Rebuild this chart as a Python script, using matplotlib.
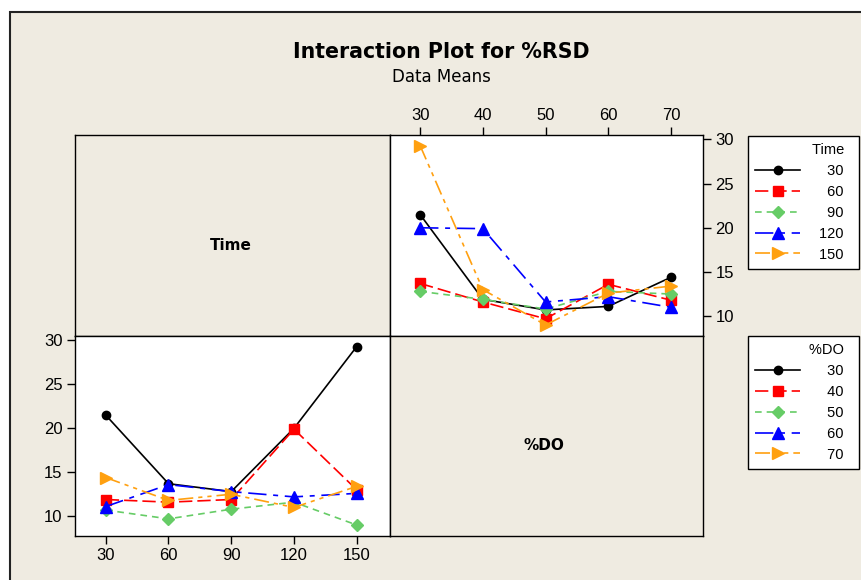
import numpy as np
import matplotlib
matplotlib.use("Agg")
import matplotlib.pyplot as plt
from matplotlib.patches import Rectangle

# ---- data (cell means of %RSD) ----
time_levels = [30, 60, 90, 120, 150]
do_levels = [30, 40, 50, 60, 70]
# mean %RSD for each Time level, across %DO = 30, 40, 50, 60, 70
rsd_time30 = [21.5, 11.9, 10.7, 11.1, 14.4]
rsd_time60 = [13.7, 11.6, 9.7, 13.6, 11.8]
rsd_time90 = [12.8, 11.9, 10.8, 12.8, 12.5]
rsd_time120 = [20.0, 19.9, 11.6, 12.2, 11.0]
rsd_time150 = [29.3, 13.0, 9.0, 12.6, 13.4]
yticks = [10, 15, 20, 25, 30]

means = np.array([rsd_time30, rsd_time60, rsd_time90, rsd_time120, rsd_time150])

# ---- styles ----
BEIGE = "#EFEBE1"
colors = ["black", "#FF0000", "#66CC66", "#0000FF", "#FFA010"]
markers = ["o", "s", "D", "^", ">"]
msizes = [6, 7, 6.5, 8, 9]
dashes = ["-", (0, (8, 3)), (0, (4, 3)), (0, (11, 4, 3, 4)), (0, (9, 3, 2.5, 3, 2.5, 3))]

W, H = 862, 580
fig = plt.figure(figsize=(W / 100, H / 100), dpi=100)
fig.patch.set_facecolor("white")
fig.add_artist(Rectangle((10 / W, -0.05), 1.0, 1 - 12 / H + 0.05, transform=fig.transFigure,
                         facecolor=BEIGE, edgecolor="#222222", lw=1.5, zorder=-10))


def pos(x0, y0, x1, y1):
    return [x0 / W, 1 - y1 / H, (x1 - x0) / W, (y1 - y0) / H]


num_font = dict(family=["Liberation Sans", "DejaVu Sans"], size=12)
ylim = (7.75, 30.5)

ax_tl = fig.add_axes(pos(75, 135, 390, 336))
ax_tr = fig.add_axes(pos(390, 135, 703, 336))
ax_bl = fig.add_axes(pos(75, 336, 390, 536))
ax_br = fig.add_axes(pos(390, 336, 703, 536))

for ax, label, dx in ((ax_tl, "Time", -2), (ax_br, "%DO", -3)):
    ax.set_facecolor(BEIGE)
    ax.set_xticks([])
    ax.set_yticks([])
    ax.text(0.5 + dx / 313, 0.5 - 10 / 201, label, transform=ax.transAxes, ha="center", va="center",
            fontsize=11, fontweight="bold", family="DejaVu Sans")

for ax in (ax_tl, ax_tr, ax_bl, ax_br):
    for s in ax.spines.values():
        s.set_color("black")
        s.set_linewidth(1.0)

# top-right: x = %DO, one line per Time level
tr_lines = []
for i, t in enumerate(time_levels):
    ln, = ax_tr.plot(do_levels, means[i, :], color=colors[i], linestyle=dashes[i], lw=1.2,
                     marker=markers[i], markersize=msizes[i], markerfacecolor=colors[i],
                     markeredgecolor=colors[i])
    tr_lines.append(ln)
ax_tr.set_xlim(25.2, 75.1)
ax_tr.set_ylim(*ylim)
ax_tr.xaxis.tick_top()
ax_tr.yaxis.tick_right()
ax_tr.set_xticks(do_levels)
ax_tr.set_yticks(yticks)

# bottom-left: x = Time, one line per %DO level
bl_lines = []
for j, d in enumerate(do_levels):
    ln, = ax_bl.plot(time_levels, means[:, j], color=colors[j], linestyle=dashes[j], lw=1.2,
                     marker=markers[j], markersize=msizes[j], markerfacecolor=colors[j],
                     markeredgecolor=colors[j])
    bl_lines.append(ln)
ax_bl.set_xlim(15.3, 165.9)
ax_bl.set_ylim(*ylim)
ax_bl.set_xticks(time_levels)
ax_bl.set_yticks(yticks)

for ax in (ax_tr, ax_bl):
    ax.set_facecolor("white")
    ax.tick_params(length=6, width=1, pad=3, direction="out", color="black")
    for lab in ax.get_xticklabels() + ax.get_yticklabels():
        lab.set_fontfamily(num_font["family"])
        lab.set_fontsize(num_font["size"])

# titles
fig.text(441 / W, 1 - 52 / H, "Interaction Plot for %RSD", ha="center", va="center",
         fontsize=14.8, fontweight="bold", family="DejaVu Sans")
fig.text(441 / W, 1 - 77 / H, "Data Means", ha="center", va="center",
         fontsize=12, family="DejaVu Sans")


def lab(v):
    s = str(v)
    return "\u2007" * (3 - len(s)) + s + "\u2007"


leg_kw = dict(loc="upper left", frameon=True, fancybox=False, alignment="right",
              handlelength=3.1, handletextpad=1.3, labelspacing=0.47, borderpad=0.5,
              borderaxespad=0, prop=dict(family=["Liberation Sans", "DejaVu Sans"], size=10.5),
              title_fontproperties=dict(family=["Liberation Sans", "DejaVu Sans"], size=10.5))
leg1 = fig.legend(tr_lines, [lab(t) for t in time_levels], title="Time\u2007",
                  bbox_to_anchor=(748 / W, 1 - 136 / H), **leg_kw)
leg2 = fig.legend(bl_lines, [lab(d) for d in do_levels], title="%DO\u2007",
                  bbox_to_anchor=(748 / W, 1 - 336 / H), **leg_kw)
for leg in (leg1, leg2):
    fr = leg.get_frame()
    fr.set_edgecolor("black")
    fr.set_facecolor("white")
    fr.set_linewidth(1.0)
    fr.set_alpha(1)

fig.savefig("out.png", dpi=100, facecolor=fig.get_facecolor())
